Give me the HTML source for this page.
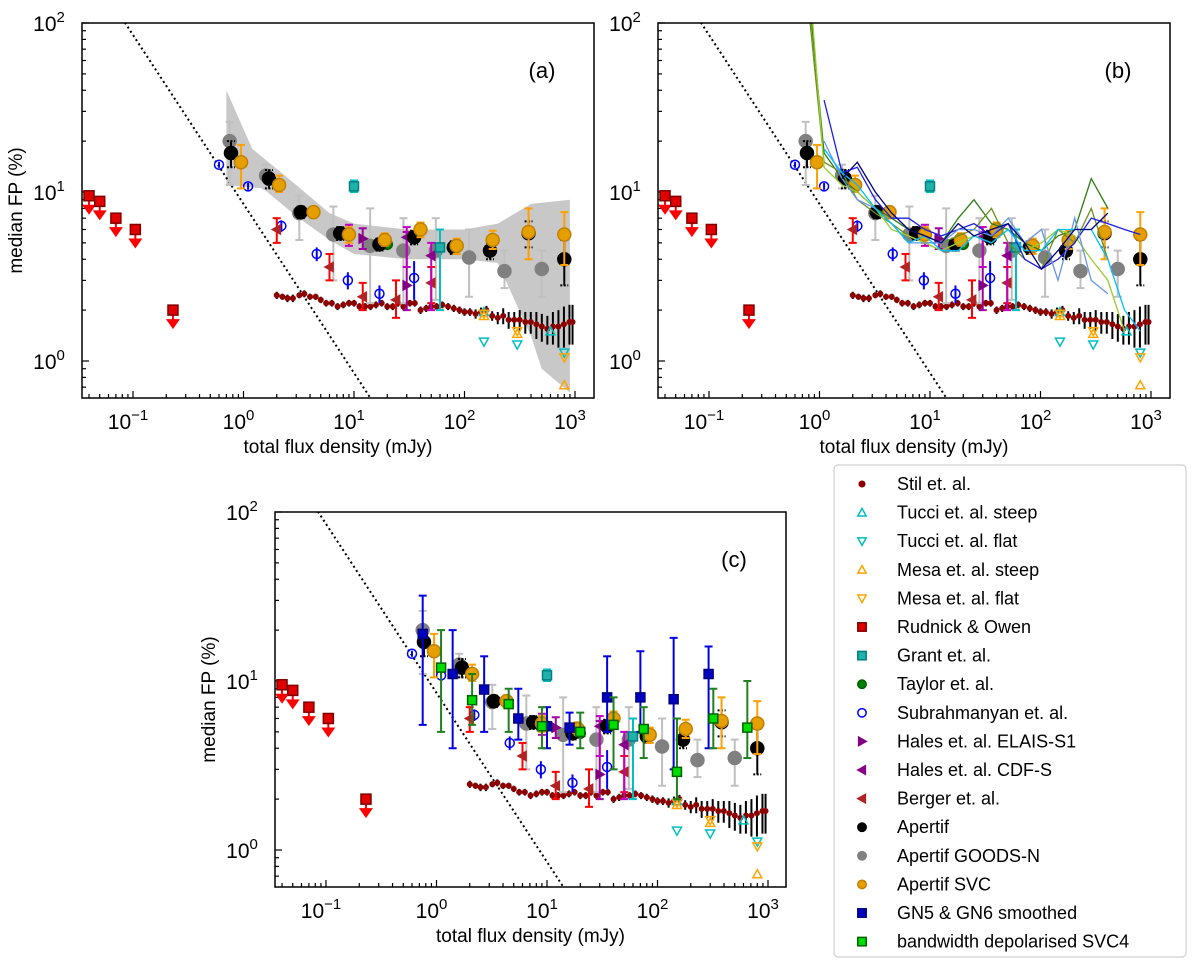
<!DOCTYPE html>
<html><head><meta charset="utf-8"><style>
body{margin:0;background:#fff}
svg{font-family:"Liberation Sans","DejaVu Sans",sans-serif}
</style></head><body>
<svg id="fig" width="1200" height="971" viewBox="0 0 1200 971" xmlns="http://www.w3.org/2000/svg">
<defs>
<clipPath id="clipa"><rect x="82" y="23" width="512" height="375"/></clipPath>
<clipPath id="clipb"><rect x="658" y="23" width="512" height="375"/></clipPath>
<clipPath id="clipc"><rect x="275" y="512" width="511" height="375"/></clipPath>
</defs>
</svg>
<script>
// ---- data ----
const rudX=[0.04,0.05,0.07,0.105,0.23];
const rudY=[9.5,8.8,7.0,6.0,2.0];
const stilX=[2.0,2.25,2.5,2.8,3.2,3.55,4.0,4.5,5.0,5.6,6.3,7.1,8.0,9.0,10,11.2,12.6,14.1,15.8,17.8,20,22.4,25,28,32,35.5,40,45,50,56,63,71,80,90,100,112,126,141,158,178,200,224,251,282,316,355,398,447,501,562,631,708,794,891,950];
const stilY=[2.45,2.4,2.35,2.35,2.45,2.5,2.4,2.4,2.3,2.2,
2.2,2.1,2.15,2.2,2.2,2.1,2.1,2.1,2.15,2.2,
2.1,2.1,2.2,2.1,2.2,2.2,2.0,2.05,2.1,2.1,
2.15,2.1,2.05,2.0,1.95,1.95,1.9,1.95,2.0,1.85,
1.8,1.85,1.75,1.75,1.75,1.7,1.7,1.65,1.6,1.55,
1.6,1.6,1.65,1.7,1.7];
const stilE=[0.12,0.1,0.12,0.12,0.1,0.12,0.1,0.1,0.1,0.1,
0.1,0.1,0.1,0.1,0.1,0.1,0.1,0.1,0.1,0.1,
0.1,0.1,0.1,0.1,0.1,0.1,0.1,0.1,0.1,0.1,
0.1,0.1,0.1,0.1,0.1,0.1,0.12,0.12,0.12,0.12,
0.15,0.2,0.2,0.2,0.25,0.25,0.25,0.3,0.3,0.3,
0.35,0.4,0.45,0.45,0.45];
const apX=[0.77,1.7,3.3,7.5,17,35,80,170,380,800];
const apY=[17,12,7.6,5.7,4.9,5.4,4.7,4.5,5.7,4.0];
const apLo=[14,10.5,7.0,5.2,4.5,4.9,4.3,4.0,4.7,2.8];
const apHi=[20,13.5,8.2,6.2,5.3,5.9,5.1,5.0,6.7,5.2];
const gnX=[0.75,1.6,3.2,6.5,14,28,55,110,230,500];
const gnY=[20,12.5,7.5,5.6,4.8,4.5,4.5,4.1,3.4,3.5];
const gnLo=[11,10.5,5.2,3.0,2.2,2.2,2.3,2.4,2.7,2.4];
const gnHi=[26,14.5,9.5,8.2,8.0,7.0,7.0,6.0,4.5,4.5];
const svcX=[0.95,2.1,4.3,9,19,40,85,180,380,800];
const svcY=[15,11,7.6,5.6,5.2,6.0,4.8,5.2,5.8,5.6];
const svcLo=[10.5,10,7.0,5.0,4.8,5.4,4.3,4.6,4.0,3.7];
const svcHi=[19,12.5,8.2,6.2,5.7,6.6,5.3,5.9,8.0,7.6];
const subX=[0.6,1.1,2.2,4.6,8.8,17,35];
const subY=[14.5,10.8,6.3,4.3,3.0,2.5,3.1];
const subE=[0.6,0.5,0.5,0.4,0.35,0.3,0.8];
const bergX=[2.0,6.0,12,24,50];
const bergY=[6.0,3.6,2.4,2.3,2.9];
const bergLo=[5.0,3.0,2.0,1.8,2.2];
const bergHi=[7.0,4.3,2.9,3.0,3.6];
const halesEX=[12,30];
const halesEY=[5.3,2.8];
const halesELo=[4.6,2.0];
const halesEHi=[6.1,5.8];
const halesCX=[9,30,50];
const halesCY=[5.6,5.4,4.2];
const halesCLo=[4.8,3.6,2.0];
const halesCHi=[6.4,6.2,5.0];
const grantX=[10, 60];
const grantY=[10.8, 4.7];
const grantLo=[10.0, 2.0];
const grantHi=[11.7, 6.0];
const taylorX=[20];
const taylorY=[4.9];
const tucciSX=[150,600];
const tucciSY=[1.95,1.5];
const tucciFX=[150,300,800];
const tucciFY=[1.3,1.25,1.12];
const mesaSX=[150,300,800];
const mesaSY=[1.85,1.45,0.72];
const mesaFX=[150,300,800];
const mesaFY=[1.9,1.5,1.05];
const bandX=[0.7,1.2,3,6,10,30,100,200,400,900];
const bandUp=[40,18,11,7.5,6.5,6,6,6.5,8.5,9];
const bandLowX=[0.7,1.5,3,6,10,30,100,200,400,500,900];
const bandLow=[11,10.5,7.2,5.2,4.3,4.0,4.0,3.8,1.4,0.9,0.65];
const lineX=[0.8,1.1,1.6,2.2,3.2,4.5,6.4,9,12.7,18,25,36,51,72,102,144,204,288,407,576,800];
const line1=[150,17,12,10,8,7,6,5.5,5,7,9,6.5,6,5,4.5,5.5,6,12,8,null,null];
const line2=[120,15,13,9,7.5,6.5,5.5,5,5,5.5,6,8,5,4,3.5,6,5,8,4,null,null];
const line3=[200,14,11,10,8,6,5.5,5,4.5,5,5.5,5,6,4.5,5,6,5.5,4,3,1.5,null];
const line4=[null,35,13,14,9,7,7,6,5.5,6,6.5,5.5,6.5,4,3.5,4,5,7,6.5,6,5.6];
const line5=[null,20,12,9,8,6.5,5,5,5,6,6,5.5,7,5,6,3,7,3,2.5,null,null];
const line6=[null,18,13,11,8,6.5,5,5.5,4.5,4.5,5.5,5,6,4.5,4.5,6,6,6,4,2,1.5];
const line7=[null,null,12,15,10,7.5,6,5.5,5,6.5,5.5,6,6.5,5,3.5,4.5,6,6,7.5,null,null];
const gn56X=[0.75,1.4,2.7,5.5,10,16,35,70,140,290];
const gn56Y=[19,11,8.9,6.0,5.4,5.3,8.0,8.0,7.8,11];
const gn56Lo=[5.5,4,5,4.5,4,4.2,5,5,3,4];
const gn56Hi=[32,20,14,9,7,6.5,14,15,18,16];
const svc4X=[1.1,2.1,4.5,9,20,40,75,150,320,650];
const svc4Y=[12,7.7,7.3,5.4,5.0,5.5,5.2,2.9,6.0,5.3];
const svc4Lo=[5,5.5,5,4,4,3,3.5,2,4,3.5];
const svc4Hi=[20,11,9,7,6.5,8,7,6,9,10];
const xTicks=[-1,0,1,2,3];
const yTicks=[0,1,2];

// ---- helpers ----
const NS="http://www.w3.org/2000/svg";
const svg=document.getElementById('fig');
function mk(tag,attrs,parent){const e=document.createElementNS(NS,tag);for(const k in attrs)e.setAttribute(k,attrs[k]);(parent||svg).appendChild(e);return e;}
function panel(ox,oy,w){return {ox:ox,oy:oy,w:w,h:375,x:v=>ox+161.5+110.5*Math.log10(v),y:v=>oy+338-169*Math.log10(v)};}
function marker(g,shape,cx,cy,fill,stroke,s){
  let e;
  if(shape==='o'){e=mk('circle',{cx:cx,cy:cy,r:s},g);}
  else if(shape==='s'){e=mk('rect',{x:cx-s,y:cy-s,width:2*s,height:2*s},g);}
  else if(shape==='^'){e=mk('polygon',{points:`${cx},${cy-s} ${cx-s},${cy+s*0.8} ${cx+s},${cy+s*0.8}`},g);}
  else if(shape==='v'){e=mk('polygon',{points:`${cx},${cy+s} ${cx-s},${cy-s*0.8} ${cx+s},${cy-s*0.8}`},g);}
  else if(shape==='>'){e=mk('polygon',{points:`${cx+s},${cy} ${cx-s*0.8},${cy-s} ${cx-s*0.8},${cy+s}`},g);}
  else if(shape==='<'){e=mk('polygon',{points:`${cx-s},${cy} ${cx+s*0.8},${cy-s} ${cx+s*0.8},${cy+s}`},g);}
  e.setAttribute('fill',fill);e.setAttribute('stroke',stroke);e.setAttribute('stroke-width',1.5);
  return e;
}
function errbar(g,x,y1,y2,color,cap,dash){
  mk('line',{x1:x,x2:x,y1:y1,y2:y2,stroke:color,'stroke-width':2},g);
  if(cap){for(const yy of [y1,y2]){const l=mk('line',{x1:x-4,x2:x+4,y1:yy,y2:yy,stroke:color,'stroke-width':2},g);if(dash)l.setAttribute('stroke-dasharray','2,1.5');}}
}
function series(P,g,name,X,Y,Lo,Hi,shape,fill,stroke,s,ecolor,cap,dash){
  const sg=mk('g',{},g);
  
  
  X.forEach((v,i)=>{
    const cx=P.x(v),cy=P.y(Y[i]);
    if(Lo&&Hi)errbar(sg,cx,P.y(Lo[i]),P.y(Hi[i]),ecolor,cap,dash);
    const m=marker(sg,shape,cx,cy,fill,stroke,s);
    
    
  });
}
function axes(P,label,id,showY){
  const g=mk('g',{});
  
  
  const ax=mk('g',{},g);
  
  
  const bottom=P.oy+P.h;
  for(let d=-2;d<=3;d++){for(let k=1;k<=9;k++){const v=k*Math.pow(10,d);const xx=P.x(v);if(xx<P.ox||xx>P.ox+P.w)continue;
    mk('line',{x1:xx,x2:xx,y1:bottom,y2:bottom-(k===1?7:4),stroke:'#000','stroke-width':1.2},ax);}}
  xTicks.forEach(d=>{const t=mk('text',{x:P.x(Math.pow(10,d))-5,y:bottom+31,'font-size':21,'text-anchor':'middle'},ax);
    
    t.textContent='10';const s=mk('tspan',{'font-size':15,dy:-9},t);s.textContent=(d<0?'\u2212':'')+Math.abs(d);});
  for(let d=-1;d<=2;d++){for(let k=1;k<=9;k++){const v=k*Math.pow(10,d);const yy=P.y(v);if(yy<P.oy-0.5||yy>bottom)continue;
    mk('line',{x1:P.ox,x2:P.ox+(k===1?7:4),y1:yy,y2:yy,stroke:'#000','stroke-width':1.2},ax);}}
  yTicks.forEach(d=>{const t=mk('text',{x:P.ox-33,y:P.y(Math.pow(10,d))+8,'font-size':21,'text-anchor':'middle'},ax);
    
    t.textContent='10';const s=mk('tspan',{'font-size':15,dy:-9},t);s.textContent=d;});
  const xl=mk('text',{x:P.ox+P.w/2,y:bottom+55,'font-size':19,'text-anchor':'middle'},g);
  xl.textContent='total flux density (mJy)';
  if(showY){
  const yx=P.ox-60,yy=P.oy+P.h/2;
  const yl=mk('text',{x:yx,y:yy,'font-size':19,'text-anchor':'middle',transform:`rotate(-90 ${yx} ${yy})`},g);
  yl.textContent='median FP (%)';
  }
  const pl=mk('text',{x:P.ox+P.w-52,y:P.oy+55,'font-size':22,'text-anchor':'middle'},g);
  pl.textContent=label;
  const plot=mk('g',{'clip-path':`url(#clip${id})`},g);
  
  return {g:g,plot:plot,frame:()=>{const f=mk('rect',{x:P.ox,y:P.oy,width:P.w,height:P.h,fill:'none',stroke:'#000','stroke-width':1.5},g);}};
}
function common(P,plot){
  const dl=mk('line',{x1:P.x(0.06),y1:P.y(8.5/0.06),x2:P.x(20),y2:P.y(8.5/20),stroke:'#000','stroke-width':2,'stroke-dasharray':'2,3'},plot);
  
  const rg=mk('g',{},plot);
  rudX.forEach((v,i)=>{const cx=P.x(v),cy=P.y(rudY[i]);
    mk('line',{x1:cx,x2:cx,y1:cy,y2:cy+12,stroke:'#ff0000','stroke-width':2},rg);
    mk('polygon',{points:`${cx-7},${cy+9} ${cx+7},${cy+9} ${cx},${cy+19}`,fill:'#ff0000'},rg);
    marker(rg,'s',cx,cy,'#e00000','#800000',5);});
  const sg=mk('g',{},plot);
  stilX.forEach((v,i)=>{const cx=P.x(v);errbar(sg,cx,P.y(stilY[i]-stilE[i]),P.y(stilY[i]+stilE[i]),'#000',false);
    mk('circle',{cx:cx,cy:P.y(stilY[i]),r:3,fill:'#8b0000'},sg);});
  series(P,plot,'tucci-steep',tucciSX,tucciSY,null,null,'^','none','#00bfbf',4.5);
  series(P,plot,'tucci-flat',tucciFX,tucciFY,null,null,'v','none','#00bfbf',4.5);
  series(P,plot,'mesa-steep',mesaSX,mesaSY,null,null,'^','none','#ffa500',4.5);
  series(P,plot,'mesa-flat',mesaFX,mesaFY,null,null,'v','none','#ffa500',4.5);
  series(P,plot,'apertif-goods-n',gnX,gnY,gnLo,gnHi,'o','#808080','#808080',6.5,'#c0c0c0',true);
  series(P,plot,'subrahmanyan',subX,subY,subX.map((v,i)=>subY[i]-subE[i]),subX.map((v,i)=>subY[i]+subE[i]),'o','none','#0000ff',4.5,'#0000ff',false);
  series(P,plot,'berger',bergX,bergY,bergLo,bergHi,'<','#b22222','#b22222',4.5,'#ff0000',true);
  series(P,plot,'hales-elais-s1',halesEX,halesEY,halesELo,halesEHi,'>','#800080','#800080',4.5,'#a000a0',true);
  series(P,plot,'hales-cdf-s',halesCX,halesCY,halesCLo,halesCHi,'<','#8b008b','#8b008b',4.5,'#c000c0',true);
  series(P,plot,'grant',grantX,grantY,grantLo,grantHi,'s','#20b2aa','#008080',4.5,'#00bfbf',true);
  series(P,plot,'taylor',taylorX,taylorY,null,null,'o','#008000','#006000',5);
  series(P,plot,'apertif',apX,apY,apLo,apHi,'o','#000','#000',6.5,'#000',true,true);
  series(P,plot,'apertif-svc',svcX,svcY,svcLo,svcHi,'o','#e69f00','#c08000',6.5,'#ffa000',true);
}

// Panel a
const Pa=panel(82,23,512);
const A=axes(Pa,'(a)','a',true);
{
  let pts=bandX.map((v,i)=>`${Pa.x(v)},${Pa.y(bandUp[i])}`);
  for(let i=bandLowX.length-1;i>=0;i--)pts.push(`${Pa.x(bandLowX[i])},${Pa.y(bandLow[i])}`);
  const b=mk('polygon',{points:pts.join(' '),fill:'#c8c8c8'},A.plot);
  
}
common(Pa,A.plot);A.frame();

// Panel b
const Pb=panel(658,23,512);
const B=axes(Pb,'(b)','b',false);
common(Pb,B.plot);
{
  const lines=[line1,line2,line3,line4,line5,line6,line7];
  const cols=['#2e7d12','#6b8e23','#9acd32','#2020e0','#6495ed','#00bfff','#000080'];
  lines.forEach((L,j)=>{
    let d='';let pen=false;
    L.forEach((v,i)=>{if(v===null){pen=false;return;}d+=(pen?'L':'M')+Pb.x(lineX[i])+','+Pb.y(v)+' ';pen=true;});
    const p=mk('path',{d:d,fill:'none',stroke:cols[j],'stroke-width':1.3},B.plot);
    
    
  });
}
B.frame();

// Panel c
const Pc=panel(275,512,511);
const C=axes(Pc,'(c)','c',true);
common(Pc,C.plot);
series(Pc,C.plot,'gn5-gn6-smoothed',gn56X,gn56Y,gn56Lo,gn56Hi,'s','#0000c0','#000080',4.5,'#0000e0',true);
series(Pc,C.plot,'bandwidth-depolarised-svc4',svc4X,svc4Y,svc4Lo,svc4Hi,'s','#00dd00','#006000',4.5,'#208020',true);
C.frame();

// Legend
const legNames=['Stil et. al.','Tucci et. al. steep','Tucci et. al. flat','Mesa et. al. steep','Mesa et. al. flat','Rudnick & Owen','Grant et. al.','Taylor et. al.','Subrahmanyan et. al.','Hales et. al. ELAIS-S1','Hales et. al. CDF-S','Berger et. al.','Apertif','Apertif GOODS-N','Apertif SVC','GN5 & GN6 smoothed','bandwidth depolarised SVC4'];
const legShapes=['o','^','v','^','v','s','s','o','o','>','<','<','o','o','o','s','s'];
const legFill=['#8b0000','none','none','none','none','#e00000','#20b2aa','#008000','none','#800080','#8b008b','#b22222','#000','#808080','#e69f00','#0000c0','#00dd00'];
const legStroke=['#8b0000','#00bfbf','#00bfbf','#ffa500','#ffa500','#800000','#008080','#006000','#0000ff','#800080','#8b008b','#b22222','#000','#808080','#c08000','#000080','#006000'];
const lg=mk('g',{});


const lb=mk('rect',{x:834,y:465,width:352,height:492,rx:4,fill:'#fff',stroke:'#d0d0d0','stroke-width':1.2},lg);
legNames.forEach((n,i)=>{
  const y=484+i*28.6;
  const eg=mk('g',{},lg);
  
  
  marker(eg,legShapes[i],862,y,legFill[i],legStroke[i],i===0?2.8:4.2);
  const t=mk('text',{x:897,y:y+6,'font-size':18},eg);t.textContent=n;
});
</script>
</body></html>
